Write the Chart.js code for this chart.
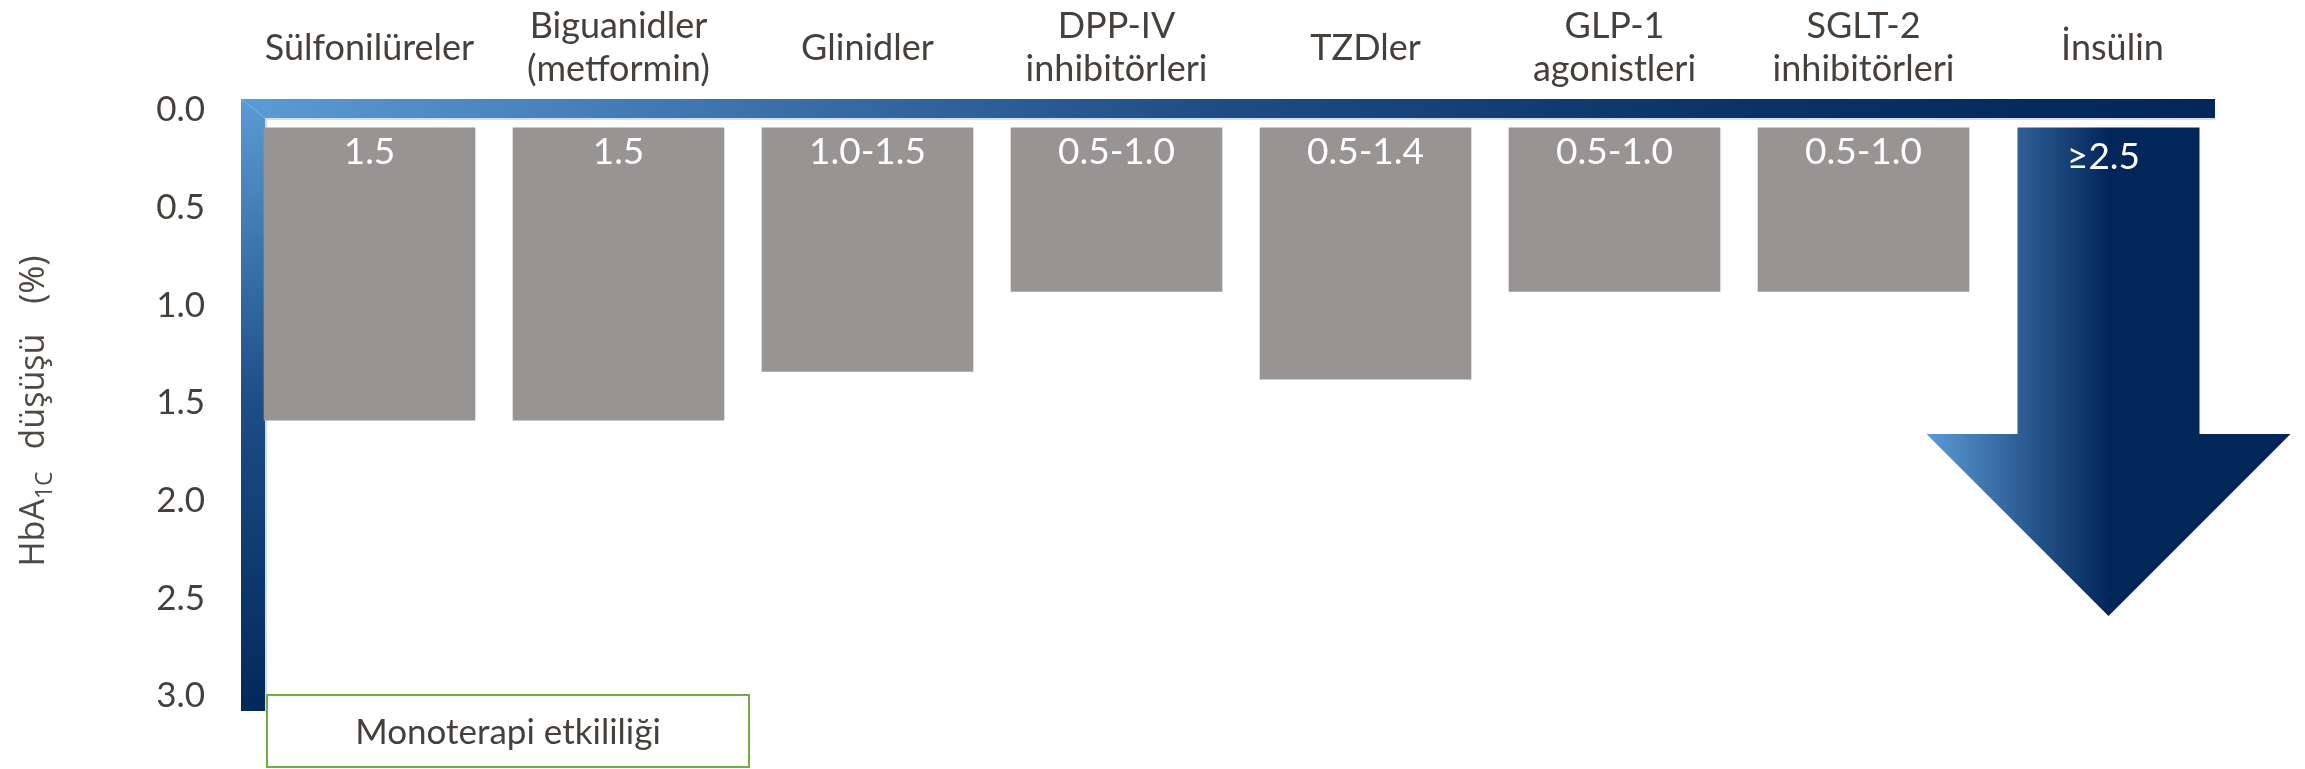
<!DOCTYPE html>
<html>
<head>
<meta charset="utf-8">
<script src="https://cdn.jsdelivr.net/npm/chart.js@4/dist/chart.umd.min.js"></script>
<style>
  html, body { margin: 0; padding: 0; background: #ffffff; }
  #wrap { width: 2305px; height: 769px; }
</style>
</head>
<body>
<div id="wrap"><canvas id="chart" width="2305" height="769"></canvas></div>
<script>
// Drug classes along the top axis
const categories = [
  'Sülfonilüreler',
  ['Biguanidler', '(metformin)'],
  'Glinidler',
  ['DPP-IV', 'inhibitörleri'],
  'TZDler',
  ['GLP-1', 'agonistleri'],
  ['SGLT-2', 'inhibitörleri'],
  'İnsülin'
];

// HbA1c reduction (%) drawn for each class
const reductions = [1.5, 1.5, 1.25, 0.84, 1.29, 0.84, 0.84, 2.5];

// Text printed inside each bar
const valueLabels = ['1.5', '1.5', '1.0-1.5', '0.5-1.0', '0.5-1.4', '0.5-1.0', '0.5-1.0', '≥2.5'];

// Vertical axis range and step
const yRange = [0, 3];
const yStep = 0.5;

// Axis title pieces and footnote box text
const titleMain = 'HbA';
const titleSub = '1C';
const titleRest = ['düşüşü', '(%)'];
const footnoteText = 'Monoterapi etkililiği';

// ---- styling ----
const TEXT = '#45403c';
const BAR_GRAY = '#979493';
const LIGHT_BLUE = '#5b9bd5';
const NAVY = '#022659';
const GREEN = '#70ad47';
const FONT = 'Lato, "Open Sans", sans-serif';
const BAR_OFFSET = 0.09;              // bars hang just below the top frame
const ARROW_INDEX = categories.length - 1;

// Gradient frame along the top and left of the plot
const framePlugin = {
  id: 'frame',
  beforeDatasetsDraw(chart) {
    const { ctx, chartArea, scales } = chart;
    const y0 = scales.y.getPixelForValue(yRange[0]);
    const yEnd = scales.y.getPixelForValue(yRange[1]);
    const bandTop = y0 - 11, bandBot = y0 + 8;
    const left = chartArea.left - 4, inner = chartArea.left + 20;
    const right = chartArea.right - 22;
    const bottom = yEnd + 15;
    ctx.save();
    // left vertical band
    let g = ctx.createLinearGradient(0, bandTop, 0, bottom);
    g.addColorStop(0, LIGHT_BLUE);
    g.addColorStop(0.5, '#1c4d85');
    g.addColorStop(1, '#03285b');
    ctx.fillStyle = g;
    ctx.beginPath();
    ctx.moveTo(left, bandTop);
    ctx.lineTo(inner, bandBot);
    ctx.lineTo(inner, bottom);
    ctx.lineTo(left, bottom);
    ctx.closePath();
    ctx.fill();
    // top horizontal band
    g = ctx.createLinearGradient(left, 0, right, 0);
    g.addColorStop(0, LIGHT_BLUE);
    g.addColorStop(0.25, '#3d72ad');
    g.addColorStop(0.5, '#1d4c83');
    g.addColorStop(0.75, '#0b3367');
    g.addColorStop(1, NAVY);
    ctx.fillStyle = g;
    ctx.beginPath();
    ctx.moveTo(left, bandTop);
    ctx.lineTo(right, bandTop);
    ctx.lineTo(right, bandBot);
    ctx.lineTo(inner, bandBot);
    ctx.closePath();
    ctx.fill();
    // thin light inner edge
    ctx.strokeStyle = '#c3d4ea';
    ctx.lineWidth = 1.5;
    ctx.beginPath();
    ctx.moveTo(inner + 1, bottom);
    ctx.lineTo(inner + 1, bandBot + 1);
    ctx.lineTo(right, bandBot + 1);
    ctx.stroke();
    ctx.restore();
  }
};

// Insulin arrow and in-bar value labels
const marksPlugin = {
  id: 'marks',
  afterDatasetsDraw(chart) {
    const { ctx } = chart;
    const meta = chart.getDatasetMeta(0);
    ctx.save();
    const el = meta.data[ARROW_INDEX];
    const top = Math.min(el.y, el.base);
    const tip = Math.max(el.y, el.base);
    const half = el.width * 0.43;
    const headHalf = half * 2;
    const headTop = tip - headHalf;
    const cx = el.x - 4;
    const g = ctx.createLinearGradient(cx - headHalf, 0, cx, 0);
    g.addColorStop(0, LIGHT_BLUE);
    g.addColorStop(1, NAVY);
    ctx.fillStyle = g;
    ctx.beginPath();
    ctx.moveTo(cx - half, top);
    ctx.lineTo(cx + half, top);
    ctx.lineTo(cx + half, headTop);
    ctx.lineTo(cx + headHalf, headTop);
    ctx.lineTo(cx, tip);
    ctx.lineTo(cx - headHalf, headTop);
    ctx.lineTo(cx - half, headTop);
    ctx.closePath();
    ctx.fill();

    ctx.fillStyle = '#ffffff';
    ctx.font = '37px ' + FONT;
    ctx.textAlign = 'center';
    ctx.textBaseline = 'middle';
    meta.data.forEach((bar, i) => {
      const t = Math.min(bar.y, bar.base);
      const isArrow = i === ARROW_INDEX;
      ctx.fillText(valueLabels[i], isArrow ? cx - 5 : bar.x, t + (isArrow ? 29 : 24));
    });
    ctx.restore();
  }
};

// Rotated axis title with subscript, and the footnote box
const textPlugin = {
  id: 'texts',
  afterDraw(chart) {
    const { ctx, chartArea, scales } = chart;
    ctx.save();
    const cy = (chartArea.top + chartArea.bottom) / 2 + 8;
    const mainFont = '34px "Open Sans", sans-serif';
    const subFont = '23px "Open Sans", sans-serif';
    ctx.font = mainFont;
    const wMain = ctx.measureText(titleMain).width;
    const wR0 = ctx.measureText(titleRest[0]).width;
    const wR1 = ctx.measureText(titleRest[1]).width;
    ctx.font = subFont;
    const wSub = ctx.measureText(titleSub).width;
    const gap1 = 22, gap2 = 30;
    const total = wMain + wSub + gap1 + wR0 + gap2 + wR1;
    ctx.translate(44, cy);
    ctx.rotate(-Math.PI / 2);
    ctx.fillStyle = '#4f4944';
    ctx.textAlign = 'left';
    ctx.textBaseline = 'alphabetic';
    let x = -total / 2;
    ctx.font = mainFont;
    ctx.fillText(titleMain, x, 0);
    x += wMain;
    ctx.font = subFont;
    ctx.fillText(titleSub, x, 8);
    x += wSub + gap1;
    ctx.font = mainFont;
    ctx.fillText(titleRest[0], x, 0);
    x += wR0 + gap2;
    ctx.fillText(titleRest[1], x, 0);
    ctx.restore();

    // footnote box under the axis
    ctx.save();
    const bx = chartArea.left + 22;
    const by = scales.y.getPixelForValue(yRange[1]) - 1;
    const bw = 482, bh = 72;
    ctx.strokeStyle = GREEN;
    ctx.lineWidth = 2;
    ctx.strokeRect(bx, by, bw, bh);
    ctx.fillStyle = TEXT;
    ctx.font = '35px ' + FONT;
    ctx.textAlign = 'center';
    ctx.textBaseline = 'middle';
    ctx.fillText(footnoteText, bx + bw / 2, by + 38);
    ctx.restore();
  }
};

new Chart(document.getElementById('chart'), {
  type: 'bar',
  data: {
    labels: categories,
    datasets: [{
      data: reductions.map(v => [BAR_OFFSET, BAR_OFFSET + v]),
      backgroundColor: ctx => ctx.dataIndex === ARROW_INDEX ? 'rgba(0,0,0,0)' : BAR_GRAY,
      borderWidth: 0,
      barPercentage: 0.85,
      categoryPercentage: 1.0
    }]
  },
  options: {
    responsive: false,
    animation: false,
    events: [],
    layout: { padding: { left: 0, top: 0, right: 68, bottom: 73 } },
    plugins: {
      legend: { display: false },
      tooltip: { enabled: false }
    },
    scales: {
      x: {
        position: 'top',
        offset: true,
        grid: { display: false },
        border: { display: false },
        ticks: {
          color: TEXT,
          font: { family: FONT, size: 36, lineHeight: 1.17 },
          padding: 33,
          crossAlign: 'center',
          maxRotation: 0,
          autoSkip: false
        },
        afterFit: s => { s.height = 110; }
      },
      y: {
        reverse: true,
        min: yRange[0],
        max: yRange[1],
        grid: { display: false },
        border: { display: false },
        ticks: {
          stepSize: yStep,
          color: TEXT,
          font: { family: FONT, size: 35 },
          padding: 32,
          callback: v => Number(v).toFixed(1)
        },
        afterFit: s => { s.width = 245; }
      }
    }
  },
  plugins: [framePlugin, marksPlugin, textPlugin]
});
</script>
</body>
</html>
